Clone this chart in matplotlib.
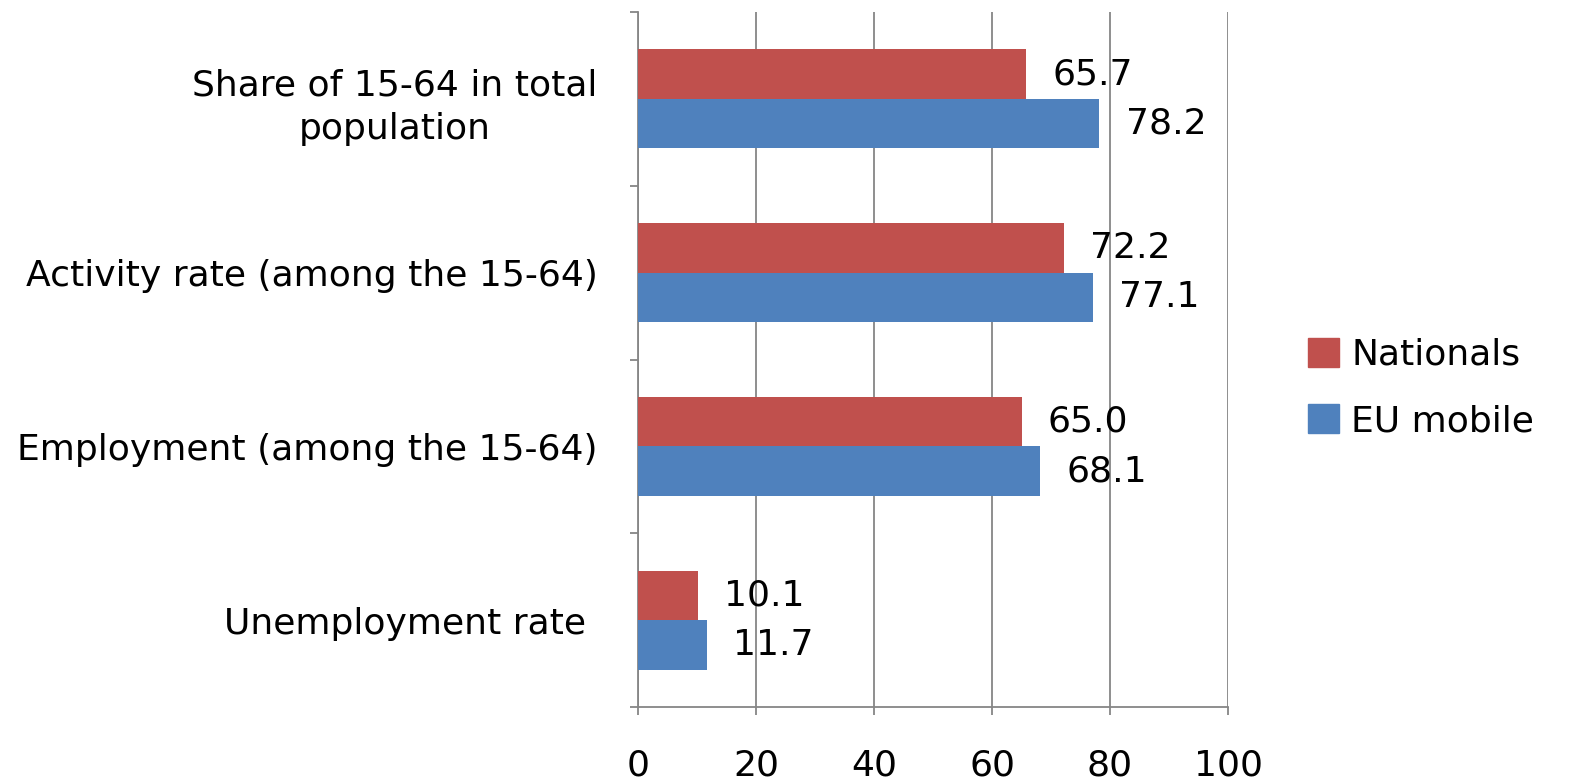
import numpy as np
import matplotlib
matplotlib.use('Agg')
import matplotlib.pyplot as plt
from matplotlib.patches import Patch

plt.rcParams['font.family'] = ['DejaVu Sans']

# data (top -> bottom)
categories = ['Share of 15-64 in total\npopulation',
              'Activity rate (among the 15-64)',
              'Employment (among the 15-64)',
              'Unemployment rate ']
nationals = [65.7, 72.2, 65.0, 10.1]
eu_mobile = [78.2, 77.1, 68.1, 11.7]
xticks = [0, 20, 40, 60, 80, 100]

red = '#C0504D'
blue = '#4F81BD'
grid_col = '#868686'
fs = 26

fig = plt.figure(figsize=(15.89, 7.83), dpi=100)
ax = fig.add_axes([638/1589, 1 - 707/783, 590/1589, 695/783])

n = len(categories)
ypos = np.arange(n)[::-1]
h = 0.285

ax.barh(ypos + h/2, nationals, height=h, color=red, zorder=3)
ax.barh(ypos - h/2, eu_mobile, height=h, color=blue, zorder=3)

for y, v in zip(ypos, nationals):
    ax.annotate(f'{v:.1f}', (v, y + h/2), xytext=(19, 0), textcoords='offset points',
                va='center', ha='left', fontsize=fs, color='black')
for y, v in zip(ypos, eu_mobile):
    ax.annotate(f'{v:.1f}', (v, y - h/2), xytext=(19, 0), textcoords='offset points',
                va='center', ha='left', fontsize=fs, color='black')

ax.set_xlim(0, 100)
ax.set_ylim(-0.5, n - 0.5)
ax.set_xticks(xticks)
ax.set_xticklabels([str(t) for t in xticks], fontsize=fs)
ax.grid(axis='x', color=grid_col, linewidth=1.3, zorder=0)

ax.set_yticks(ypos)
ax.set_yticklabels(categories, fontsize=fs, multialignment='center', linespacing=1.35)
ax.set_yticks(np.arange(n + 1) - 0.5, minor=True)
ax.tick_params(axis='y', which='major', length=0, pad=29)
ax.tick_params(axis='y', which='minor', length=6, color=grid_col, width=1.3)
ax.tick_params(axis='x', length=6, color=grid_col, width=1.3, pad=24)

for s in ['top', 'right']:
    ax.spines[s].set_visible(False)
for s in ['left', 'bottom']:
    ax.spines[s].set_color(grid_col)
    ax.spines[s].set_linewidth(1.3)

handles = [Patch(color=red, label='Nationals'), Patch(color=blue, label='EU mobile')]
fig.legend(handles=handles, loc='center left', bbox_to_anchor=(1308/1589, 1 - 388/783),
           frameon=False, fontsize=fs, handlelength=0.85, handleheight=0.85,
           handletextpad=0.35, labelspacing=0.9, borderpad=0, borderaxespad=0)

fig.savefig('out.png', dpi=100, facecolor='white')
